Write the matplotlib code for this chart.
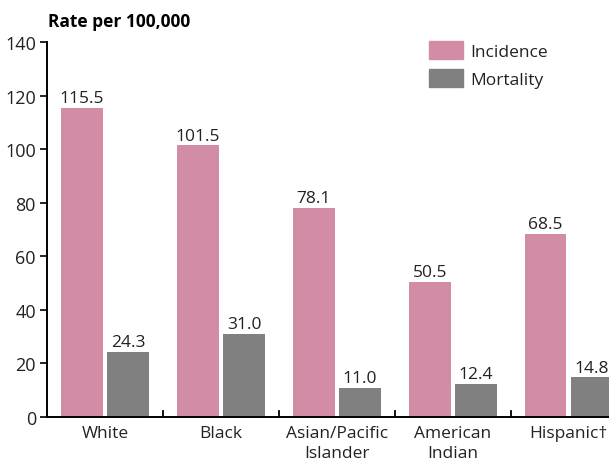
import numpy as np
import matplotlib.pyplot as plt
from matplotlib.patches import Patch

groups = ['White', 'Black', 'Asian/Pacific\nIslander', 'American\nIndian', 'Hispanic\u2020']
incidence = [115.5, 101.5, 78.1, 50.5, 68.5]
mortality = [24.3, 31.0, 11.0, 12.4, 14.8]
yticks = [0, 20, 40, 60, 80, 100, 120, 140]

pink = '#d28ca6'
grey = '#808080'
text_col = '#222222'

plt.rcParams['font.family'] = ['Open Sans', 'DejaVu Sans']

fig = plt.figure(figsize=(6.09, 4.64), dpi=100)
ax = fig.add_axes([0.0772, 0.0991, 0.952, 0.808])

x = np.arange(len(groups))
w = 0.36
b1 = ax.bar(x - 0.2, incidence, w, color=pink)
b2 = ax.bar(x + 0.2, mortality, w, color=grey)

for bars, vals in ((b1, incidence), (b2, mortality)):
    for rect, v in zip(bars, vals):
        ax.text(rect.get_x() + rect.get_width() / 2, v + 0.6, f'{v:.1f}',
                ha='center', va='bottom', fontsize=12.5, color=text_col)

ax.set_xlim(-0.5, 4.5)
ax.set_ylim(0, 140)
ax.set_yticks(yticks)
ax.tick_params(axis='y', direction='out', length=5, width=1.2,
               labelsize=13, labelcolor=text_col, pad=3)

# group labels at centres, separator ticks between groups
ax.set_xticks(x)
ax.set_xticklabels(groups, fontsize=12.5, color=text_col, linespacing=1.3)
ax.tick_params(axis='x', length=0, pad=6)
for b in x[1:] - 0.5:
    ax.plot([b, b], [0, 2.2], color='black', lw=1.3, clip_on=False)

for s in ('top', 'right'):
    ax.spines[s].set_visible(False)
for s in ('left', 'bottom'):
    ax.spines[s].set_linewidth(1.4)

fig.text(0.0788, 0.953, 'Rate per 100,000', fontsize=12.5, fontweight='bold',
         color='black', va='center', ha='left')

handles = [Patch(color=pink, label='Incidence'), Patch(color=grey, label='Mortality')]
fig.legend(handles=handles, loc='upper left', bbox_to_anchor=(0.678, 0.943),
           frameon=False, fontsize=12.5, handlelength=2.0, handleheight=1.2,
           handletextpad=0.4, labelspacing=0.55, labelcolor=text_col)

fig.savefig('out.png', dpi=100)
